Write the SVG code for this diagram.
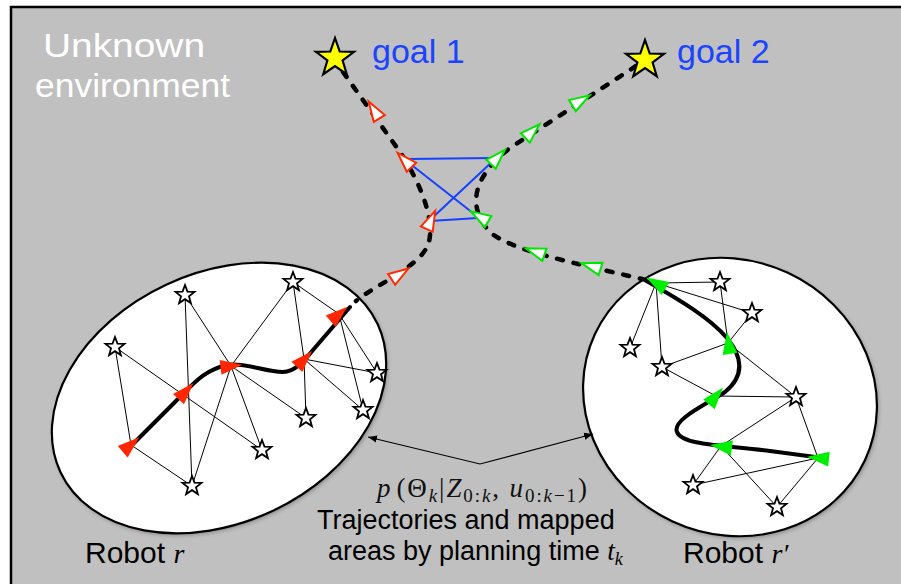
<svg xmlns="http://www.w3.org/2000/svg" xmlns:xlink="http://www.w3.org/1999/xlink" width="901" height="584" viewBox="0 0 901 584">
<style>
.bg{fill:#c0c0c0;stroke:#000;stroke-width:2.5}
.area{fill:#ffffff;stroke:#000;stroke-width:2.2}
.shadow{fill:#000;opacity:0.3;filter:url(#bl)}
.dash{fill:none;stroke:#000;stroke-width:4.5;stroke-dasharray:6 11;stroke-linecap:round}
.blue{fill:none;stroke:#1540ff;stroke-width:2}
.edge{fill:none;stroke:#000;stroke-width:1}
.traj{fill:none;stroke:#000;stroke-width:4;stroke-linecap:round}
.arrow{fill:none;stroke:#000;stroke-width:1.2;marker-start:url(#ah);marker-end:url(#ah)}
.lm{fill:#fff;stroke:#000;stroke-width:1.8;stroke-linejoin:miter}
.goal{fill:#ffff00;stroke:#000;stroke-width:2.2}
.hr{fill:#fff;stroke:#ff2a00;stroke-width:2;stroke-linejoin:miter}
.hg{fill:#fff;stroke:#00e600;stroke-width:2;stroke-linejoin:miter}
.fr{fill:#ff2600}
.fg{fill:#00ee00}
.sans{font-family:"Liberation Sans",Arial,Helvetica,sans-serif}
.serif{font-family:"Liberation Serif","Times New Roman",serif}
.env{fill:#fff;font-size:34px}
.gl{fill:#1a44ff;font-size:34px}
.cap{fill:#000;font-size:27px}
.rob{fill:#000;font-size:30px}
</style>
<defs>
<filter id="bl" x="-10%" y="-10%" width="120%" height="120%">
<feGaussianBlur stdDeviation="2"/>
</filter>
<marker id="ah" viewBox="0 0 10 10" refX="10" refY="5" markerWidth="9" markerHeight="9" markerUnits="userSpaceOnUse" orient="auto-start-reverse">
<path d="M0,1 L10,5 L0,9 Z" fill="#000"/>
</marker>
<path id="st" d="M0,-10 L2.469,-3.398 L9.511,-3.090 L3.994,1.298 L5.878,8.090 L0,4.2 L-5.878,8.090 L-3.994,1.298 L-9.511,-3.090 L-2.469,-3.398 Z"/>
<path id="gst" d="M0,-20 L4.702,-6.472 L19.021,-6.180 L7.608,2.472 L11.756,16.180 L0,8 L-11.756,16.180 L-7.608,2.472 L-19.021,-6.180 L-4.702,-6.472 Z"/>
<path id="th" d="M10,0 L-10,-6.5 L-10,6.5 Z"/>
<path id="tf" d="M11,0 L-11,-7.5 L-11,7.5 Z"/>
</defs>

<rect class="bg" x="11" y="7" width="898" height="585"/>

<text class="sans env" x="43" y="57" textLength="162" lengthAdjust="spacingAndGlyphs">Unknown</text>
<text class="sans env" x="35" y="97" textLength="195" lengthAdjust="spacingAndGlyphs">environment</text>

<g id="robot-r">
<ellipse class="shadow" cx="220.5" cy="400" rx="175" ry="125" transform="rotate(-25 220.5 400)"/>
<ellipse class="area" cx="219" cy="398" rx="175" ry="125" transform="rotate(-25 219 398)"/>
</g>
<g id="robot-r-prime">
<ellipse class="shadow" cx="731.5" cy="399" rx="149" ry="137" transform="rotate(25 731.5 399)"/>
<ellipse class="area" cx="730" cy="397" rx="149" ry="137" transform="rotate(25 730 397)"/>
</g>

<g id="connectors">
<path class="dash" d="M343,72 L400,152 C425,190 435,225 428,245 C418,268 375,285 356,301"/>
<path class="dash" d="M636,66 L510,148 C475,175 465,205 490,232 C510,250 570,262 642,279"/>
<path class="blue" d="M409,159 L492,158"/>
<path class="blue" d="M409,163 L478,217"/>
<path class="blue" d="M494,160 L430,220"/>
<path class="blue" d="M430,221 L478,218"/>
<g class="edge">
<path d="M115,347 L131,445"/><path d="M115,347 L262,450"/><path d="M131,445 L192,486"/>
<path d="M185,295 L192,486"/><path d="M185,295 L231,366"/><path d="M231,366 L293,282"/>
<path d="M231,366 L192,486"/><path d="M231,366 L262,450"/><path d="M231,366 L306,418"/>
<path d="M293,282 L304,359"/><path d="M293,282 L339,314"/><path d="M304,359 L306,418"/>
<path d="M304,359 L377,373"/><path d="M304,359 L363,410"/><path d="M339,314 L377,373"/>
<path d="M339,314 L363,410"/>
<path d="M656,283 L720,282"/><path d="M656,283 L752,313"/><path d="M656,283 L630,348"/>
<path d="M656,283 L662,367"/><path d="M720,282 L728,343"/><path d="M752,313 L728,343"/>
<path d="M662,367 L728,343"/><path d="M728,343 L796,397"/><path d="M662,367 L716,396"/>
<path d="M716,396 L796,397"/><path d="M796,397 L721,446"/><path d="M796,397 L818,458"/>
<path d="M721,446 L693,485"/><path d="M721,446 L777,507"/><path d="M818,458 L693,485"/>
<path d="M818,458 L777,507"/>
</g>
<path class="traj" d="M131,446 L180,397 C195,382 205,370 227,365 C245,362 265,372 283,372 C295,372 305,360 313,350 L350,307"/>
<path class="traj" d="M643,279 C680,300 710,318 727,338 C745,360 742,378 725,392 C705,405 672,420 677,432 C682,445 720,445 770,451 L823,458"/>
<path class="arrow" d="M368,437 L480,464 L593,434"/>
</g>

<g id="landmarks-r">
<use href="#st" class="lm" x="185" y="295"/>
<use href="#st" class="lm" x="293" y="282"/>
<use href="#st" class="lm" x="115" y="347"/>
<use href="#st" class="lm" x="377" y="373"/>
<use href="#st" class="lm" x="363" y="410"/>
<use href="#st" class="lm" x="306" y="418"/>
<use href="#st" class="lm" x="262" y="450"/>
<use href="#st" class="lm" x="192" y="486"/>
</g>
<g id="landmarks-r-prime">
<use href="#st" class="lm" x="720" y="282"/>
<use href="#st" class="lm" x="752" y="313"/>
<use href="#st" class="lm" x="630" y="348"/>
<use href="#st" class="lm" x="662" y="367"/>
<use href="#st" class="lm" x="796" y="397"/>
<use href="#st" class="lm" x="693" y="485"/>
<use href="#st" class="lm" x="777" y="507"/>
</g>

<g id="poses-r">
<use href="#tf" class="fr" transform="translate(131,444.5) rotate(-41)"/>
<use href="#tf" class="fr" transform="translate(186,391) rotate(-47)"/>
<use href="#tf" class="fr" transform="translate(231.5,366) rotate(-7)"/>
<use href="#tf" class="fr" transform="translate(304.5,359) rotate(-46)"/>
<use href="#tf" class="fr" transform="translate(339,314) rotate(-41)"/>
</g>
<g id="poses-r-prime">
<use href="#tf" class="fg" transform="translate(656,283) rotate(-150)"/>
<use href="#tf" class="fg" transform="translate(728.5,343) rotate(-98)"/>
<use href="#tf" class="fg" transform="translate(716,396) rotate(-50)"/>
<use href="#tf" class="fg" transform="translate(721,446.5) rotate(-172)"/>
<use href="#tf" class="fg" transform="translate(818,458) rotate(-174)"/>
</g>

<g id="plan-r">
<use href="#th" class="hr" transform="translate(374,110) rotate(-122)"/>
<use href="#th" class="hr" transform="translate(404.5,160) rotate(-134)"/>
<use href="#th" class="hr" transform="translate(431,220) rotate(-65)"/>
<use href="#th" class="hr" transform="translate(400,274) rotate(-33)"/>
</g>
<g id="plan-r-prime">
<use href="#th" class="hg" transform="translate(581,100.5) rotate(-31)"/>
<use href="#th" class="hg" transform="translate(532.5,131) rotate(-44)"/>
<use href="#th" class="hg" transform="translate(498,157) rotate(-46)"/>
<use href="#th" class="hg" transform="translate(479.5,216.5) rotate(-149)"/>
<use href="#th" class="hg" transform="translate(535,251.5) rotate(-161)"/>
<use href="#th" class="hg" transform="translate(591,266) rotate(-163)"/>
</g>

<g id="goal-1">
<use href="#gst" class="goal" x="335" y="58"/>
<text class="sans gl" x="372" y="63">goal 1</text>
</g>
<g id="goal-2">
<use href="#gst" class="goal" x="645" y="60"/>
<text class="sans gl" x="677" y="63">goal 2</text>
</g>

<g id="caption">
<text class="serif" x="377" y="497" font-size="27" fill="#111" textLength="210" lengthAdjust="spacing"><tspan font-style="italic">p</tspan><tspan dx="4">(Θ</tspan><tspan font-style="italic" font-size="19" dy="5">k</tspan><tspan dy="-5">|</tspan><tspan font-style="italic">Z</tspan><tspan font-size="19" dy="5">0:</tspan><tspan font-size="19" font-style="italic">k</tspan><tspan dy="-5">, </tspan><tspan font-style="italic">u</tspan><tspan font-size="19" dy="5">0:</tspan><tspan font-size="19" font-style="italic">k</tspan><tspan font-size="19">−1</tspan><tspan dy="-5">)</tspan></text>
<text class="sans cap" x="317" y="529">Trajectories and mapped</text>
<text class="sans cap" x="328" y="560">areas by planning time <tspan class="serif" font-style="italic">t</tspan><tspan class="serif" font-style="italic" font-size="18" dy="5">k</tspan></text>
</g>

<g id="label-r">
<text class="sans rob" x="85" y="563">Robot <tspan class="serif" font-style="italic" font-size="28">r</tspan></text>
</g>
<g id="label-r-prime">
<text class="sans rob" x="683" y="563">Robot <tspan class="serif" font-style="italic" font-size="28">r′</tspan></text>
</g>
</svg>
